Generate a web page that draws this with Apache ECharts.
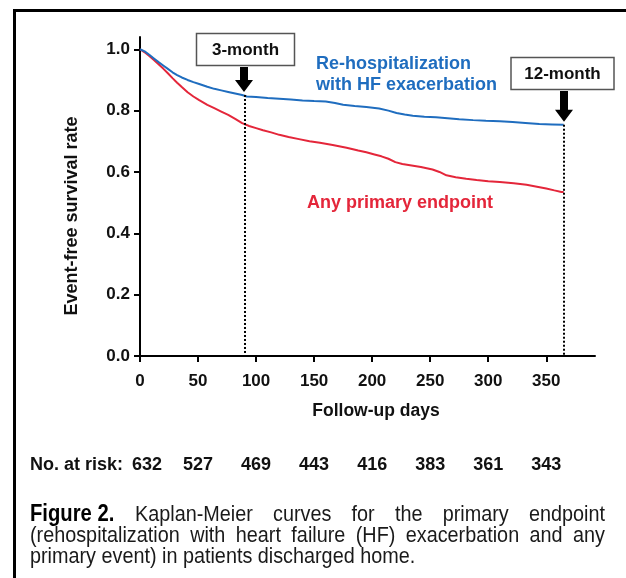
<!DOCTYPE html>
<html><head><meta charset="utf-8">
<script src="https://cdn.jsdelivr.net/npm/echarts@6/dist/echarts.min.js"></script>
<style>html,body{margin:0;padding:0;background:#fff}#c{width:626px;height:578px}</style>
</head><body><div id="c"></div>
<script>
// ---- data ----
const rehospDays = [0,4,8,12,16,20,24,28,32,36,41,46,51,58,64,70,76,82,88,92,100,110,120,130,140,150,160,168,175,185,195,206,214,221,228,235,245,255,265,275,287,298,310,321,332,344,355,365];
const rehospSurv = [1.000,0.993,0.982,0.970,0.958,0.947,0.936,0.925,0.916,0.908,0.900,0.893,0.887,0.878,0.871,0.866,0.861,0.856,0.851,0.846,0.844,0.841,0.839,0.836,0.833,0.831,0.830,0.825,0.819,0.815,0.812,0.807,0.800,0.792,0.787,0.783,0.780,0.778,0.775,0.772,0.769,0.767,0.765,0.763,0.760,0.756,0.755,0.754];
const anyDays = [0,4,8,12,16,20,24,28,32,36,41,46,51,58,64,70,76,82,88,94,100,106,113,120,128,137,146,155,166,178,188,195,202,208,214,220,226,234,242,252,258,264,272,281,290,300,310,322,333,342,350,357,363,365];
const anySurv = [1.000,0.990,0.978,0.965,0.951,0.937,0.922,0.906,0.891,0.877,0.860,0.846,0.834,0.819,0.808,0.797,0.786,0.773,0.759,0.750,0.743,0.736,0.729,0.721,0.714,0.707,0.700,0.695,0.688,0.679,0.670,0.664,0.657,0.651,0.643,0.632,0.626,0.621,0.616,0.608,0.600,0.589,0.583,0.578,0.574,0.570,0.567,0.563,0.558,0.552,0.546,0.540,0.535,0.535];
const xTicks = [0,50,100,150,200,250,300,350];
const yTicks = [0,0.2,0.4,0.6,0.8,1.0];
const atRiskDays = [0,50,100,150,200,250,300,350];
const atRiskCounts = [632,527,469,443,416,383,361,343];
const landmarkDays = [90,365];
const landmarkLabels = ['3-month','12-month'];
const seriesNames = ['Any primary endpoint','Re-hospitalization\nwith HF exacerbation'];
const xTitle = 'Follow-up days';
const yTitle = 'Event-free survival rate';
const riskTitle = 'No. at risk:';
const captionBold = 'Figure 2.';
const captionLine1 = 'Kaplan-Meier curves for the primary endpoint';
const captionLine2 = '(rehospitalization with heart failure (HF) exacerbation and any';
const captionLine3 = 'primary event) in patients discharged home.';

const BLUE = '#1f6dbf', RED = '#e4263a';
const F = '"Liberation Sans", Arial, sans-serif';

function valAt(days, vals, d){ let v = vals[0]; for(let i=0;i<days.length;i++){ if(days[i]<=d) v=vals[i]; } return v; }

const chart = echarts.init(document.getElementById('c'), null, {renderer:'canvas'});
const axisTxt = {fontFamily:F, fontWeight:'bold', fontSize:17, color:'#111'};
chart.setOption({
  animation:false,
  backgroundColor:'#fff',
  grid:{left:140, right:31, top:37, bottom:222, containLabel:false},
  xAxis:[{
    type:'value', min:0, max:392,
    axisLine:{lineStyle:{color:'#000', width:2}},
    axisTick:{show:true, length:6, lineStyle:{color:'#000', width:2}, customValues:xTicks},
    axisLabel:Object.assign({margin:17, customValues:xTicks, formatter:v=>String(v)}, axisTxt),
    splitLine:{show:false}
  },{
    type:'value', min:0, max:392, position:'bottom', offset:98, gridIndex:0,
    axisLine:{show:false}, axisTick:{show:false}, splitLine:{show:false},
    axisLabel:Object.assign({margin:2, customValues:atRiskDays,
      formatter:v=>{const i=atRiskDays.indexOf(v); if(i<0) return ''; return i===0 ? '{first|'+atRiskCounts[i]+'}' : String(atRiskCounts[i]);},
      rich:{first:{padding:[0,0,0,14], fontFamily:F, fontWeight:'bold', fontSize:18, color:'#111'}}}, axisTxt, {fontSize:18})
  }],
  yAxis:{
    type:'value', min:0, max:1.04,
    axisLine:{show:true, lineStyle:{color:'#000', width:2}},
    axisTick:{show:true, length:6, lineStyle:{color:'#000', width:2}, customValues:yTicks},
    axisLabel:Object.assign({margin:10, customValues:yTicks, formatter:v=>v.toFixed(1)}, axisTxt),
    splitLine:{show:false}
  },
  series:[
    {name:seriesNames[0], type:'line', showSymbol:false, symbol:'none',
     data:anyDays.map((d,i)=>[d, anySurv[i]]), lineStyle:{color:RED, width:2}, itemStyle:{color:RED}, z:2},
    {name:seriesNames[1], type:'line', showSymbol:false, symbol:'none',
     data:rehospDays.map((d,i)=>[d, rehospSurv[i]]), lineStyle:{color:BLUE, width:2}, itemStyle:{color:BLUE}, z:3,
     markLine:{silent:true, symbol:['none','none'], label:{show:false},
       lineStyle:{color:'#000', width:2, type:[2,2]},
       data:landmarkDays.map(d=>[{coord:[d, valAt(rehospDays, rehospSurv, d)]},{coord:[d,0]}])}}
  ]
});

// annotations positioned through the chart's own scales
const g = [];
function txt(x,y,text,font,fill,align,valign,extra){
  return Object.assign({type:'text', x:x, y:y, silent:true, z:10,
    style:{text:text, font:font, fill:fill, textAlign:align||'left', textVerticalAlign:valign||'middle', align:align||'left', verticalAlign:valign||'middle'}}, extra||{});
}
// border frame
g.push({type:'rect', shape:{x:14.5, y:10.5, width:700, height:700}, style:{fill:'none', stroke:'#000', lineWidth:3}, silent:true, z:1});

// landmark boxes + arrows
const boxTops = [33, 57];
const boxShift = [1.5, -1.5];
landmarkDays.forEach((d,i)=>{
  const v = valAt(rehospDays, rehospSurv, d);
  const p = chart.convertToPixel({xAxisIndex:0, yAxisIndex:0}, [d, v]);
  const cx = Math.round(p[0]);
  const w = i===0 ? 98 : 103, h = 32;
  const top = boxTops[i];
  const bx = cx + boxShift[i];
  g.push({type:'rect', shape:{x:bx - w/2, y:top + 0.5, width:w, height:h}, style:{fill:'#fff', stroke:'#555', lineWidth:1.5}, silent:true, z:9});
  g.push(txt(bx, top + h/2 + 1, landmarkLabels[i], 'bold 17px ' + F, '#111', 'center', 'middle'));
  const aTop = top + h + 2, tip = p[1] - 3;
  const headStart = tip - 12;
  g.push({type:'polygon', silent:true, z:9, shape:{points:[
    [cx-4, aTop],[cx+4, aTop],[cx+4, headStart],[cx+9, headStart],[cx, tip],[cx-9, headStart],[cx-4, headStart]]},
    style:{fill:'#000'}});
});

// series labels
g.push(txt(316, 64, 'Re-hospitalization', 'bold 18px ' + F, BLUE));
g.push(txt(316, 85, 'with HF exacerbation', 'bold 18px ' + F, BLUE));
g.push(txt(307, 203, seriesNames[0], 'bold 18px ' + F, RED));

// axis titles
g.push(txt(376, 411, xTitle, 'bold 17.5px ' + F, '#111', 'center'));
g.push(txt(72, 216, yTitle, 'bold 18px ' + F, '#111', 'center', 'middle', {rotation:Math.PI/2}));
g.push(txt(30, 465, riskTitle, 'bold 18px ' + F, '#111', 'left'));

// caption (slightly condensed via horizontal scale), justified lines
const SX = 0.9;
const ctx = document.createElement('canvas').getContext('2d');
const capFont = '22px ' + F;
function justify(line, x0, x1, y){
  ctx.font = capFont;
  const words = line.split(' ');
  const ws = words.map(w=>ctx.measureText(w).width * SX);
  const total = ws.reduce((a,b)=>a+b,0);
  const gap = (x1 - x0 - total)/(words.length-1);
  let x = x0;
  words.forEach((w,i)=>{ g.push(txt(x, y, w, capFont, '#1a1a1a', 'left', 'middle', {scaleX:SX})); x += ws[i] + gap; });
}
g.push(txt(30, 515, captionBold, 'bold 23px ' + F, '#000', 'left', 'middle', {scaleX:0.88}));
justify(captionLine1, 135, 605, 515);
justify(captionLine2, 30, 605, 536);
g.push(txt(30, 557, captionLine3, capFont, '#1a1a1a', 'left', 'middle', {scaleX:SX}));

chart.setOption({graphic:g});
</script>
</body></html>
